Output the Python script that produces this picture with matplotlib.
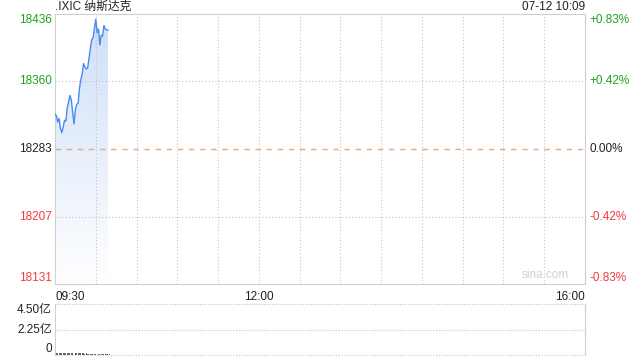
import matplotlib
matplotlib.use('Agg')
import matplotlib.pyplot as plt
import numpy as np
from matplotlib.path import Path
from matplotlib.patches import PathPatch
from matplotlib.colors import LinearSegmentedColormap

plt.rcParams['font.family'] = ['Liberation Sans', 'Noto Sans CJK SC', 'DejaVu Sans']

# 分时数据 (09:30 - 10:09, 每分钟)
prices = [18323, 18321, 18314, 18318, 18307, 18302, 18308, 18316, 18315, 18330,
          18337, 18344, 18339, 18325, 18312, 18328, 18334, 18335, 18352, 18362,
          18368, 18380, 18376, 18374, 18375, 18386, 18397, 18407, 18409, 18420,
          18430, 18415, 18419, 18401, 18412, 18411, 18423, 18419, 18418, 18418]
volumes = [0.20, 0.19, 0.19, 0.18, 0.19, 0.18, 0.18, 0.17, 0.18, 0.17,
           0.18, 0.17, 0.16, 0.17, 0.16, 0.16, 0.15, 0.16, 0.15, 0.14,
           0.15, 0.13, 0.14, 0.13, 0.12, 0.13, 0.12, 0.12, 0.11, 0.12,
           0.11, 0.10, 0.10, 0.09, 0.10, 0.08, 0.08, 0.07, 0.06, 0.05]
prev_close = 18283
y_ticks = [18131, 18207, 18283, 18360, 18436]
pct_labels = ['-0.83%', '-0.42%', '0.00%', '+0.42%', '+0.83%']
vol_ticks = [0, 2.25, 4.5]
vol_labels = ['0', '2.25亿', '4.50亿']
title = '.IXIC 纳斯达克'
stamp = '07-12 10:09'

GREEN = '#1ca11c'
RED = '#f23c3c'
GRID = '#c4c4c4'
FS = 8.5

fig = plt.figure(figsize=(6.4, 3.6), dpi=100)
ax = fig.add_axes([55/640, 1-284/360, 530/640, 270/360])
av = fig.add_axes([55/640, 1-355/360, 530/640, 51/360])

x = np.arange(len(prices))
ax.set_xlim(0, 390)
ax.set_ylim(y_ticks[0], y_ticks[-1])

# gradient fill under line
verts = [(0, y_ticks[0])] + list(zip(x, prices)) + [(x[-1], y_ticks[0])]
clip = PathPatch(Path(verts), facecolor='none', edgecolor='none')
ax.add_patch(clip)
grad = np.linspace(0, 1, 256).reshape(-1, 1)
cmap = LinearSegmentedColormap.from_list('g', ['#ffffff', '#cfdff8'])
im = ax.imshow(grad, cmap=cmap, aspect='auto', origin='lower',
               extent=[0, x[-1], y_ticks[0], max(prices)], zorder=1)
im.set_clip_path(clip)
ax.plot(x, prices, color='#4a8af0', lw=1.0, zorder=3)

ax.axhline(prev_close, color='#f0a878', lw=1, dashes=(4, 4), zorder=2)
for xv in range(30, 390, 30):
    ax.axvline(xv, color=GRID, lw=0.8, ls=(0, (1, 2)), zorder=2)
for yv in [y_ticks[1], y_ticks[3]]:
    ax.axhline(yv, color=GRID, lw=0.8, ls=(0, (1, 2)), zorder=2)

for s in ax.spines.values():
    s.set_color('#cfcfcf')
ax.set_xticks([])
ax.set_yticks([])

colors = [RED, RED, '#222222', GREEN, GREEN]
for i, (v, lab, c) in enumerate(zip(y_ticks, pct_labels, colors)):
    va = 'bottom' if i == 0 else ('top' if i == 4 else 'center')
    ax.text(-0.006, (v - y_ticks[0]) / (y_ticks[-1] - y_ticks[0]), str(v),
            transform=ax.transAxes, ha='right', va=va, color=c, fontsize=FS)
    ax.text(1.008, (v - y_ticks[0]) / (y_ticks[-1] - y_ticks[0]), lab,
            transform=ax.transAxes, ha='left', va=va, color=c, fontsize=FS)

ax.text(0, -0.025, '09:30', transform=ax.transAxes, ha='left', va='top', fontsize=FS, color='#222222')
ax.text(150/390, -0.025, '12:00', transform=ax.transAxes, ha='center', va='top', fontsize=FS, color='#222222')
ax.text(1, -0.025, '16:00', transform=ax.transAxes, ha='right', va='top', fontsize=FS, color='#222222')
ax.text(0, 1.005, title, transform=ax.transAxes, ha='left', va='bottom', fontsize=FS, color='#222222')
ax.text(1, 1.005, stamp, transform=ax.transAxes, ha='right', va='bottom', fontsize=FS, color='#222222')
ax.text(0.97, 0.01, 'sina.com', transform=ax.transAxes, ha='right', va='bottom', fontsize=FS, color='#d0d0d0')

# volume
av.set_xlim(-1, 390)
av.set_ylim(0, 4.5)
av.bar(x, volumes, width=0.7, color='#666666')
av.set_xticks([])
av.set_yticks([])
for k in ['top', 'bottom']:
    av.spines[k].set_visible(False)
for k in ['left', 'right']:
    av.spines[k].set_color('#cfcfcf')
for yv in vol_ticks:
    av.axhline(yv, color=GRID, lw=0.8, ls=(0, (1, 1.5)), clip_on=False)
for v, lab, va in zip(vol_ticks, vol_labels, ['bottom', 'center', 'top']):
    av.text(-0.006, v / 4.5, lab, transform=av.transAxes, ha='right', va=va,
            fontsize=FS, color='#222222')

fig.savefig('out.png')
